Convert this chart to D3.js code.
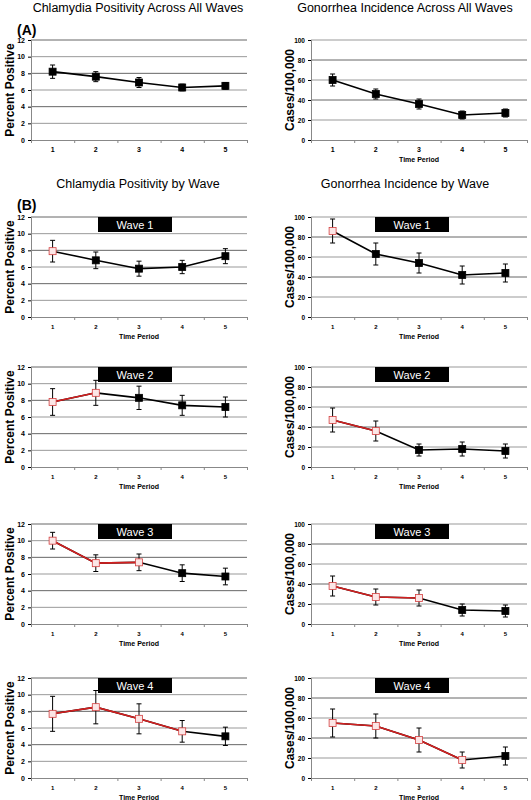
<!DOCTYPE html>
<html><head><meta charset="utf-8">
<script src="https://cdn.jsdelivr.net/npm/d3@7"></script>
<style>body{margin:0;background:#fff}</style>
</head><body>
<svg id="chart" width="531" height="800"></svg>
<script>
const periods = [1, 2, 3, 4, 5];
const chlAll = [[8.2, 0.8], [7.6, 0.6], [6.9, 0.6], [6.3, 0.4], [6.5, 0.4]];
const gonAll = [[60, 6], [46, 5], [36, 5], [25, 4], [27, 4]];
const chlW1 = [[7.9, 1.3], [6.8, 1.0], [5.8, 0.9], [6.0, 0.8], [7.3, 0.9]];
const gonW1 = [[86, 12], [63, 11], [54, 10], [42, 9], [44, 9]];
const chlW2 = [[7.8, 1.6], [8.9, 1.5], [8.3, 1.4], [7.4, 1.2], [7.2, 1.2]];
const gonW2 = [[47, 12], [36, 10], [17, 6], [18, 7], [16, 7]];
const chlW3 = [[10.0, 1.0], [7.3, 1.0], [7.4, 1.0], [6.1, 1.0], [5.7, 1.0]];
const gonW3 = [[38, 10], [27, 8], [26, 8], [14, 6], [13, 6]];
const chlW4 = [[7.7, 2.1], [8.5, 2.0], [7.1, 1.8], [5.6, 1.3], [5.0, 1.1]];
const gonW4 = [[55, 14], [52, 12], [38, 12], [18, 8], [22, 9]];
const chlTicks = [0, 2, 4, 6, 8, 10, 12];
const gonTicks = [0, 20, 40, 60, 80, 100];

const svg = d3.select("#chart");

// panel: data, left x, top y, kind, wave (0 = none), show time label
function panel(data, x0, top, kind, wave, timeLabel) {
  const chl = kind === "chl";
  const x1 = x0 + 216, bottom = top + 100;
  const x = d3.scaleLinear().domain([0.5, 5.5]).range([x0, x1]);
  const y = d3.scaleLinear().domain(chl ? [0, 12] : [0, 100]).range([bottom, top]);
  const g = svg.append("g");
  const ticks = chl ? chlTicks : gonTicks;

  g.selectAll(".grid").data(ticks.slice(1)).join("line")
    .attr("x1", x0).attr("x2", x1).attr("y1", d => y(d)).attr("y2", d => y(d))
    .attr("stroke", (d, i) => i % 2 ? "#666" : "#999").attr("stroke-width", 1);

  const ya = g.append("g").attr("transform", `translate(${x0},0)`)
    .call(d3.axisLeft(y).tickValues(ticks).tickSize(3));
  ya.selectAll("text").attr("font-size", chl ? 7 : 6.5).attr("font-weight", "bold").attr("font-family", "Arial, Liberation Sans");
  ya.select(".domain").attr("stroke", "#888");
  const xa = g.append("g").attr("transform", `translate(0,${bottom})`)
    .call(d3.axisBottom(x).tickValues([0.5, 1.5, 2.5, 3.5, 4.5, 5.5]).tickSize(3).tickFormat(""));
  xa.select(".domain").attr("stroke", "#888");
  xa.selectAll("line").attr("stroke", "#888");
  g.selectAll(".xl").data(periods).join("text")
    .attr("x", d => x(d)).attr("y", bottom + 12).attr("text-anchor", "middle")
    .attr("font-size", wave ? 6 : 7).attr("font-weight", "bold").attr("font-family", "Arial, Liberation Sans").text(d => d);

  g.append("text").attr("transform", `translate(${x0 - 17},${(top + bottom) / 2}) rotate(-90)`)
    .attr("text-anchor", "middle").attr("font-size", 12).attr("font-weight", "bold")
    .attr("font-family", "Arial, Liberation Sans").text(chl ? "Percent Positive" : "Cases/100,000");

  if (timeLabel) g.append("text").attr("x", (x0 + x1) / 2).attr("y", bottom + 22)
    .attr("text-anchor", "middle").attr("font-size", 7).attr("font-weight", "bold")
    .attr("font-family", "Arial, Liberation Sans").text("Time Period");

  if (wave) {
    const cx = x0 + (chl ? 104 : 101);
    g.append("rect").attr("x", cx - 37).attr("y", top).attr("width", 74).attr("height", 15).attr("fill", "#000");
    g.append("text").attr("x", cx).attr("y", top + 11.5).attr("text-anchor", "middle").attr("fill", "#fff")
      .attr("font-size", 11).attr("font-family", "Arial, Liberation Sans").text("Wave " + wave);
  }

  const pts = data.map((d, i) => ({ p: periods[i], v: d[0], e: d[1], red: i < wave }));
  g.selectAll(".eb").data(pts).join("g").each(function (d) {
    const s = d3.select(this), px = x(d.p);
    s.append("line").attr("x1", px).attr("x2", px).attr("y1", y(d.v - d.e)).attr("y2", y(d.v + d.e)).attr("stroke", "#000");
    [d.v - d.e, d.v + d.e].forEach(v => s.append("line").attr("x1", px - 2.5).attr("x2", px + 2.5)
      .attr("y1", y(v)).attr("y2", y(v)).attr("stroke", "#000"));
  });
  const line = d3.line().x(d => x(d.p)).y(d => y(d.v));
  g.append("path").datum(pts).attr("d", line).attr("fill", "none").attr("stroke", "#000").attr("stroke-width", 1.6);
  if (wave > 1) g.append("path").datum(pts.slice(0, wave)).attr("d", line).attr("fill", "none").attr("stroke", "#d42020").attr("stroke-width", 1.6);
  g.selectAll(".pt").data(pts).join("rect")
    .attr("x", d => x(d.p) - 3.5).attr("y", d => y(d.v) - 3.5).attr("width", 7).attr("height", 7)
    .attr("fill", d => d.red ? "#fbe6e6" : "#000").attr("stroke", d => d.red ? "#d44040" : "#000").attr("stroke-width", 0.8);
}

function title(t, x, y) {
  svg.append("text").attr("x", x).attr("y", y).attr("text-anchor", "middle").attr("font-size", 12.5)
    .attr("font-family", "Arial, Liberation Sans").text(t);
}
title("Chlamydia Positivity Across All Waves", 138, 12);
title("Gonorrhea Incidence Across All Waves", 405, 12);
title("Chlamydia Positivity by Wave", 138, 188);
title("Gonorrhea Incidence by Wave", 405, 188);
svg.append("text").attr("x", 17).attr("y", 35).attr("font-size", 14).attr("font-weight", "bold").attr("font-family", "Arial, Liberation Sans").text("(A)");
svg.append("text").attr("x", 17).attr("y", 210).attr("font-size", 14).attr("font-weight", "bold").attr("font-family", "Arial, Liberation Sans").text("(B)");

panel(chlAll, 31, 40, "chl", 0, false);
panel(gonAll, 311, 40, "gon", 0, true);
const chlW = [chlW1, chlW2, chlW3, chlW4], gonW = [gonW1, gonW2, gonW3, gonW4];
const tops = [217, 367, 524, 678];
tops.forEach((t, i) => {
  panel(chlW[i], 31, t, "chl", i + 1, true);
  panel(gonW[i], 311, t, "gon", i + 1, true);
});
</script>
</body></html>
